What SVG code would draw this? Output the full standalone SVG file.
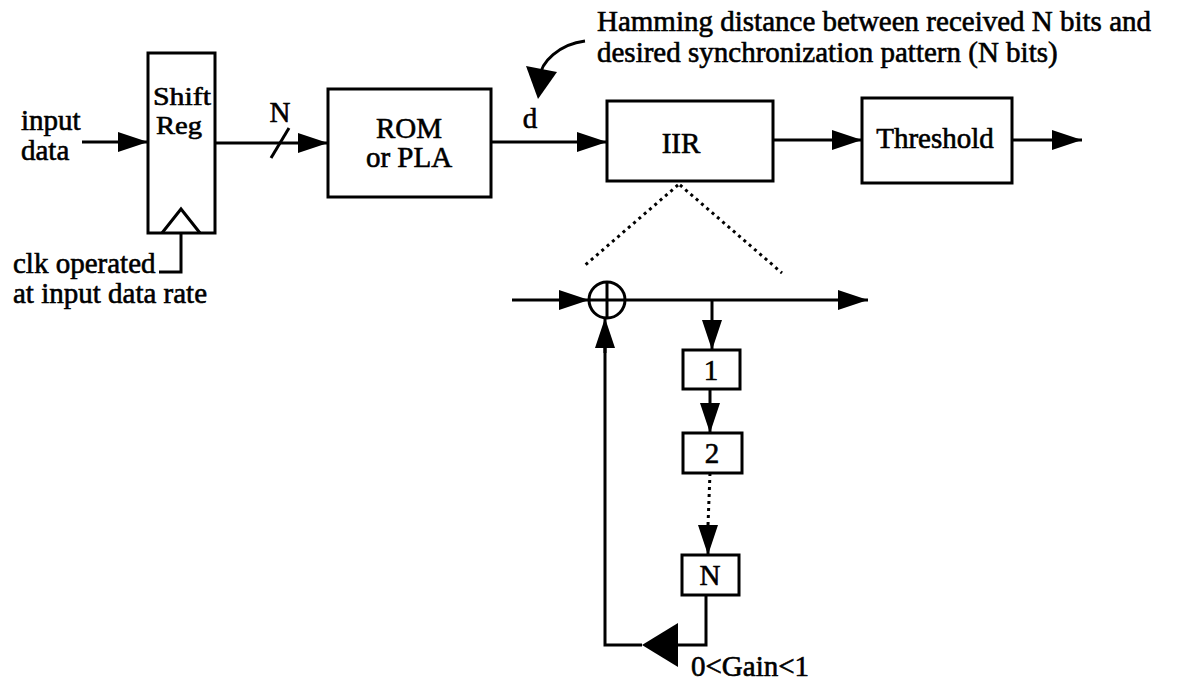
<svg xmlns="http://www.w3.org/2000/svg" width="1177" height="682" viewBox="0 0 1177 682">
<defs>
<marker id="ah" viewBox="0 0 30 20" refX="30" refY="10" markerWidth="30" markerHeight="20" markerUnits="userSpaceOnUse" orient="auto">
<path d="M0,0 L30,10 L0,20 Z" fill="#000"/>
</marker>
</defs>
<style>
text{font-family:"Liberation Serif","Times New Roman",serif;fill:#000;stroke:#000;stroke-width:0.6}
.box{fill:#fff;stroke:#000;stroke-width:3}
.ln{fill:none;stroke:#000;stroke-width:3}
.dot{fill:none;stroke:#000;stroke-width:3;stroke-dasharray:3 4}
.t{font-size:29px}
.s{font-size:26px}
.m{text-anchor:middle}
</style>
<rect width="1177" height="682" fill="#fff"/>
<g id="connectors">
<line class="ln" x1="82" y1="142" x2="148" y2="142" marker-end="url(#ah)"/>
<line class="ln" x1="215" y1="143" x2="328" y2="143" marker-end="url(#ah)"/>
<line class="ln" x1="271" y1="158" x2="289" y2="128"/>
<line class="ln" x1="491" y1="142" x2="607" y2="142" marker-end="url(#ah)"/>
<line class="ln" x1="773" y1="140" x2="862" y2="140" marker-end="url(#ah)"/>
<line class="ln" x1="1012" y1="140" x2="1082" y2="140" marker-end="url(#ah)"/>
<polyline class="ln" points="181,233 181,272 159,272"/>
<path class="ln" d="M585,41 C560,44 540,62 540,78"/>
<path d="M526,66 L557,72 L538,99 Z" fill="#000"/>
<line class="dot" x1="678" y1="185" x2="583" y2="267"/>
<line class="dot" x1="680" y1="185" x2="782" y2="273"/>
<line class="ln" x1="512" y1="300" x2="589" y2="300" marker-end="url(#ah)"/>
<line class="ln" x1="625" y1="300" x2="868" y2="300" marker-end="url(#ah)"/>
<line class="ln" x1="712" y1="300" x2="712" y2="350" marker-end="url(#ah)"/>
<line class="ln" x1="710" y1="389" x2="710" y2="433" marker-end="url(#ah)"/>
<line class="dot" x1="710" y1="473" x2="708" y2="525"/>
<line class="ln" x1="708" y1="525" x2="708" y2="555" marker-end="url(#ah)"/>
<polyline class="ln" points="706,595 706,645 678,645"/>
<polyline class="ln" points="642,645 605,645 605,335"/>
<line class="ln" x1="605" y1="353" x2="605" y2="318" marker-end="url(#ah)"/>
</g>
<g id="shiftreg">
<rect class="box" x="148" y="53" width="67" height="180"/>
<polyline class="ln" points="162,233 181,209 200,233"/>
<text class="s m" x="182" y="105" textLength="58" lengthAdjust="spacingAndGlyphs">Shift</text>
<text class="s m" x="179" y="134" textLength="46" lengthAdjust="spacingAndGlyphs">Reg</text>
</g>
<g id="rom">
<rect class="box" x="328" y="89" width="163" height="108"/>
<text class="t m" x="409" y="138">ROM</text>
<text class="t m" x="409" y="167">or PLA</text>
</g>
<g id="iir">
<rect class="box" x="607" y="101" width="166" height="80"/>
<text class="t m" x="681" y="153">IIR</text>
</g>
<g id="threshold">
<rect class="box" x="862" y="98" width="150" height="85"/>
<text class="t m" x="935" y="148">Threshold</text>
</g>
<g id="adder">
<circle cx="607" cy="300" r="18" fill="#fff" stroke="#000" stroke-width="3"/>
<line class="ln" x1="589" y1="300" x2="625" y2="300"/>
<line class="ln" x1="607" y1="282" x2="607" y2="318"/>
</g>
<g id="d1">
<rect class="box" x="683" y="350" width="57" height="39"/>
<text class="t m" x="711" y="380">1</text>
</g>
<g id="d2">
<rect class="box" x="683" y="433" width="59" height="40"/>
<text class="t m" x="712" y="463">2</text>
</g>
<g id="dN">
<rect class="box" x="682" y="555" width="57" height="40"/>
<text class="t m" x="710" y="585">N</text>
</g>
<g id="gain">
<path d="M642,645 L678,623 L678,667 Z" fill="#000"/>
<text class="t" x="691" y="676">0&lt;Gain&lt;1</text>
</g>
<g id="labels">
<text class="t" x="21" y="130">input</text>
<text class="t" x="21" y="160">data</text>
<text class="t m" x="280" y="122">N</text>
<text class="t m" x="530" y="128">d</text>
<text class="t" x="13" y="273">clk operated</text>
<text class="t" x="13" y="303">at input data rate</text>
<text class="t" x="597" y="31">Hamming distance between received N bits and</text>
<text class="t" x="597" y="62">desired synchronization pattern (N bits)</text>
</g>
</svg>
